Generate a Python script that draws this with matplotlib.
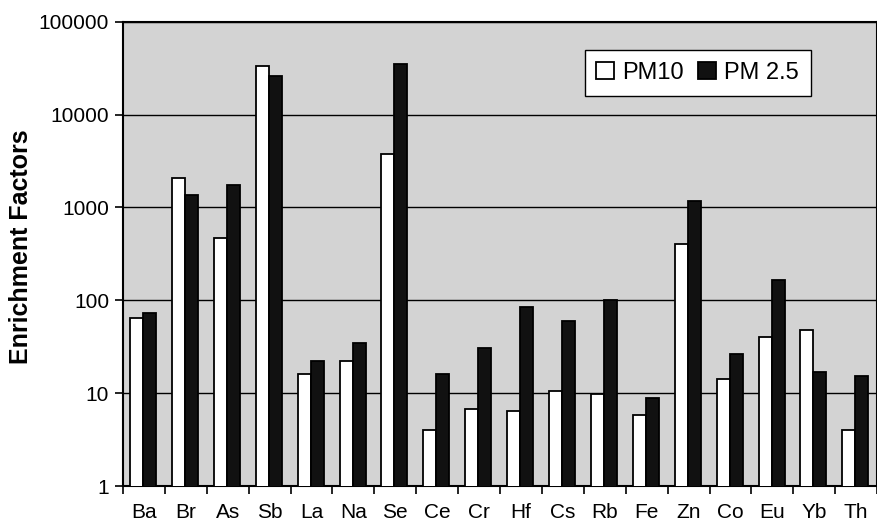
import matplotlib.pyplot as plt
import numpy as np
from matplotlib.ticker import FixedLocator, NullLocator

plt.rcParams['font.family'] = ['Liberation Sans', 'DejaVu Sans']

elements = ['Ba', 'Br', 'As', 'Sb', 'La', 'Na', 'Se', 'Ce', 'Cr', 'Hf',
            'Cs', 'Rb', 'Fe', 'Zn', 'Co', 'Eu', 'Yb', 'Th']
pm10 = [65, 2100, 464, 33400, 16.2, 22, 3720, 4.0, 6.8, 6.4,
        10.7, 9.8, 5.8, 403, 14.1, 40, 48, 4.0]
pm25 = [74, 1350, 1725, 25900, 22.3, 35, 34900, 16.3, 31, 84,
        60, 102, 9.0, 1160, 26.5, 164, 17, 15.5]
yticks = [1, 10, 100, 1000, 10000, 100000]

fig = plt.figure(figsize=(8.78, 5.29), dpi=100)
ax = fig.add_axes([0.140, 0.081, 0.859, 0.878])
ax.set_facecolor('#d3d3d3')

x = np.arange(len(elements))
w = 0.31
ax.bar(x - w / 2 - 0.02, pm10, w, bottom=0, color='white', edgecolor='black',
       linewidth=1.3, label='PM10', zorder=3)
ax.bar(x + w / 2 - 0.02, pm25, w, bottom=0, color='#111111', edgecolor='black',
       linewidth=1.3, label='PM 2.5', zorder=3)

ax.set_yscale('log')
ax.set_ylim(1, 100000)
ax.set_xlim(-0.5, len(elements) - 0.5)
ax.yaxis.set_major_locator(FixedLocator(yticks))
ax.yaxis.set_minor_locator(NullLocator())
ax.set_yticklabels([str(v) for v in yticks], fontsize=15)
ax.yaxis.grid(True, color='black', linewidth=1.0, zorder=1)
ax.set_axisbelow(True)

# category labels centred, ticks on the boundaries
ax.set_xticks(x)
ax.set_xticklabels(elements, fontsize=15)
ax.tick_params(axis='x', which='major', length=0, pad=12)
ax.set_xticks(np.arange(len(elements) + 1) - 0.5, minor=True)
ax.tick_params(axis='x', which='minor', length=6, width=1.2, direction='out')
ax.tick_params(axis='y', length=6, width=1.2, direction='out', pad=4)

for s in ax.spines.values():
    s.set_color('black')
    s.set_linewidth(1.5)

ax.set_ylabel('Enrichment Factors', fontsize=18, fontweight='bold')
ax.yaxis.set_label_coords(-0.119, 0.515)

leg = ax.legend(loc='upper right', bbox_to_anchor=(0.912, 0.939), borderaxespad=0,
                ncol=2, fontsize=17, fancybox=False, framealpha=1,
                edgecolor='black', handlelength=0.75, handleheight=0.75,
                handletextpad=0.35, columnspacing=0.6, borderpad=0.5)
leg.get_frame().set_linewidth(1.0)

fig.savefig('out.png', dpi=100)
